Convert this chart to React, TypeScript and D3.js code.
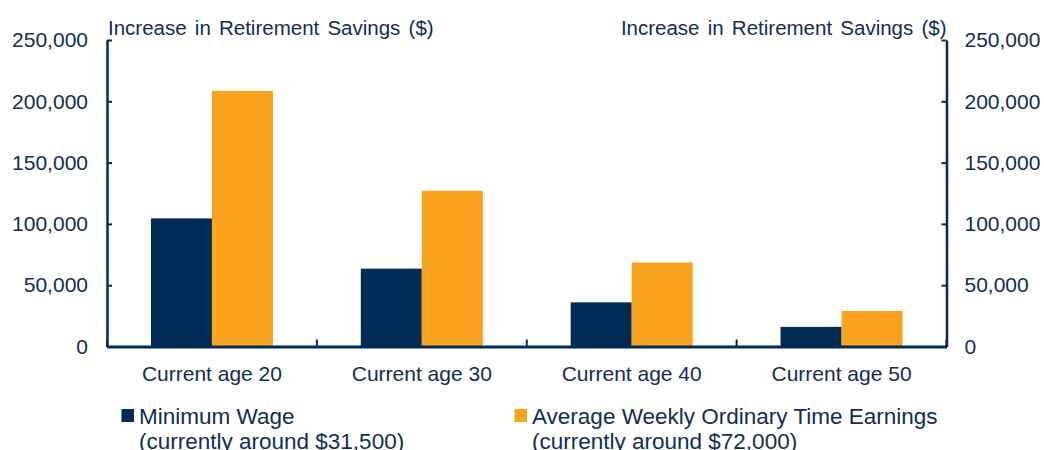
import React, { useEffect, useRef } from 'react';
import * as d3 from 'd3';

const categories = ['Current age 20', 'Current age 30', 'Current age 40', 'Current age 50'];
const seriesNames = ['Minimum Wage', 'Average Weekly Ordinary Time Earnings'];
const seriesNotes = ['(currently around $31,500)', '(currently around $72,000)'];
const minimumWage = [104500, 63500, 36000, 16000];
const averageEarnings = [208500, 127000, 68500, 29000];
const yTicks = [0, 50000, 100000, 150000, 200000, 250000];
const axisTitle = 'Increase in Retirement Savings ($)';

const NAVY = '#002b55';
const ORANGE = '#f9a31f';
const TEXT = '#0f2e55';
const FONT = '"Liberation Sans", Arial, sans-serif';

const width = 1044;
const height = 450;

export default function App() {
  const svgRef = useRef<SVGSVGElement>(null);

  useEffect(() => {
    if (!svgRef.current) return;
    const svg = d3.select(svgRef.current);
    svg.selectAll('*').remove();

    const left = 107;
    const right = 946.5;
    const top = 40;
    const bottom = 346.5;

    const x = d3.scaleBand<string>().domain(categories).range([left, right]).padding(0);
    const sub = d3.scaleBand<string>()
      .domain(seriesNames)
      .range([0, x.bandwidth()])
      .paddingInner(0)
      .paddingOuter(0.72);
    const y = d3.scaleLinear().domain([0, 250000]).range([bottom, top]);
    const color = d3.scaleOrdinal<string, string>().domain(seriesNames).range([NAVY, ORANGE]);

    const rows = categories.map((c, i) => ({
      category: c,
      values: [
        { key: seriesNames[0], value: minimumWage[i] },
        { key: seriesNames[1], value: averageEarnings[i] },
      ],
    }));

    // bars
    svg.append('g')
      .selectAll('g')
      .data(rows)
      .enter().append('g')
      .attr('transform', d => `translate(${x(d.category)},0)`)
      .selectAll('rect')
      .data(d => d.values)
      .enter().append('rect')
      .attr('x', d => sub(d.key)!)
      .attr('y', d => y(d.value))
      .attr('width', sub.bandwidth())
      .attr('height', d => bottom - y(d.value))
      .attr('fill', d => color(d.key));

    const fmt = d3.format(',');

    // left axis
    const leftAxis = svg.append('g')
      .attr('transform', `translate(${left},0)`)
      .call(d3.axisLeft(y).tickValues(yTicks).tickFormat(d => fmt(d as number)).tickSize(-5).tickSizeOuter(0).tickPadding(19));
    // right axis
    const rightAxis = svg.append('g')
      .attr('transform', `translate(${right},0)`)
      .call(d3.axisRight(y).tickValues(yTicks).tickFormat(d => fmt(d as number)).tickSize(-5).tickSizeOuter(0).tickPadding(18));

    [leftAxis, rightAxis].forEach(a => {
      a.select('.domain').attr('stroke', NAVY).attr('stroke-width', 2.5);
      a.selectAll('.tick line').attr('stroke', NAVY).attr('stroke-width', 2);
      a.selectAll('.tick text')
        .attr('fill', TEXT)
        .style('font-family', FONT)
        .style('font-size', '21px');
    });

    // bottom axis with category labels
    const bottomAxis = svg.append('g')
      .attr('transform', `translate(0,${bottom})`)
      .call(d3.axisBottom(x).tickSize(0).tickPadding(20));
    bottomAxis.select('.domain').attr('stroke', NAVY).attr('stroke-width', 3);
    bottomAxis.selectAll('.tick text')
      .attr('fill', TEXT)
      .style('font-family', FONT)
      .style('font-size', '21px');

    // category boundary ticks
    const bounds = categories.map(c => x(c)!).concat([right]);
    svg.append('g')
      .selectAll('line')
      .data(bounds)
      .enter().append('line')
      .attr('x1', d => d)
      .attr('x2', d => d)
      .attr('y1', bottom)
      .attr('y2', bottom - 7)
      .attr('stroke', NAVY)
      .attr('stroke-width', 2);

    // axis titles
    svg.append('text')
      .attr('x', left + 1)
      .attr('y', 35)
      .attr('fill', TEXT)
      .style('font-family', FONT)
      .style('font-size', '20.5px')
      .style('word-spacing', '2.5px')
      .text(axisTitle);
    svg.append('text')
      .attr('x', right)
      .attr('y', 35)
      .attr('text-anchor', 'end')
      .attr('fill', TEXT)
      .style('font-family', FONT)
      .style('font-size', '20.5px')
      .style('word-spacing', '2.5px')
      .text(axisTitle);

    // legend
    const legendX = [121.5, 514.5];
    const legend = svg.append('g')
      .selectAll('g')
      .data(seriesNames)
      .enter().append('g')
      .attr('transform', (_, i) => `translate(${legendX[i]},0)`);
    legend.append('rect')
      .attr('x', 0)
      .attr('y', 409)
      .attr('width', 12.5)
      .attr('height', 13)
      .attr('fill', d => color(d));
    legend.append('text')
      .attr('x', 17.5)
      .attr('y', 423.5)
      .attr('fill', TEXT)
      .style('font-family', FONT)
      .style('font-size', '22.5px')
      .text(d => d);
    legend.append('text')
      .attr('x', 17.5)
      .attr('y', 449)
      .attr('fill', TEXT)
      .style('font-family', FONT)
      .style('font-size', '22.5px')
      .text((_, i) => seriesNotes[i]);
  }, []);

  return (
    <div style={{ position: 'absolute', left: 0, top: 0 }}>
      <svg ref={svgRef} width={width} height={height} style={{ display: 'block', background: '#fff' }} />
    </div>
  );
}
